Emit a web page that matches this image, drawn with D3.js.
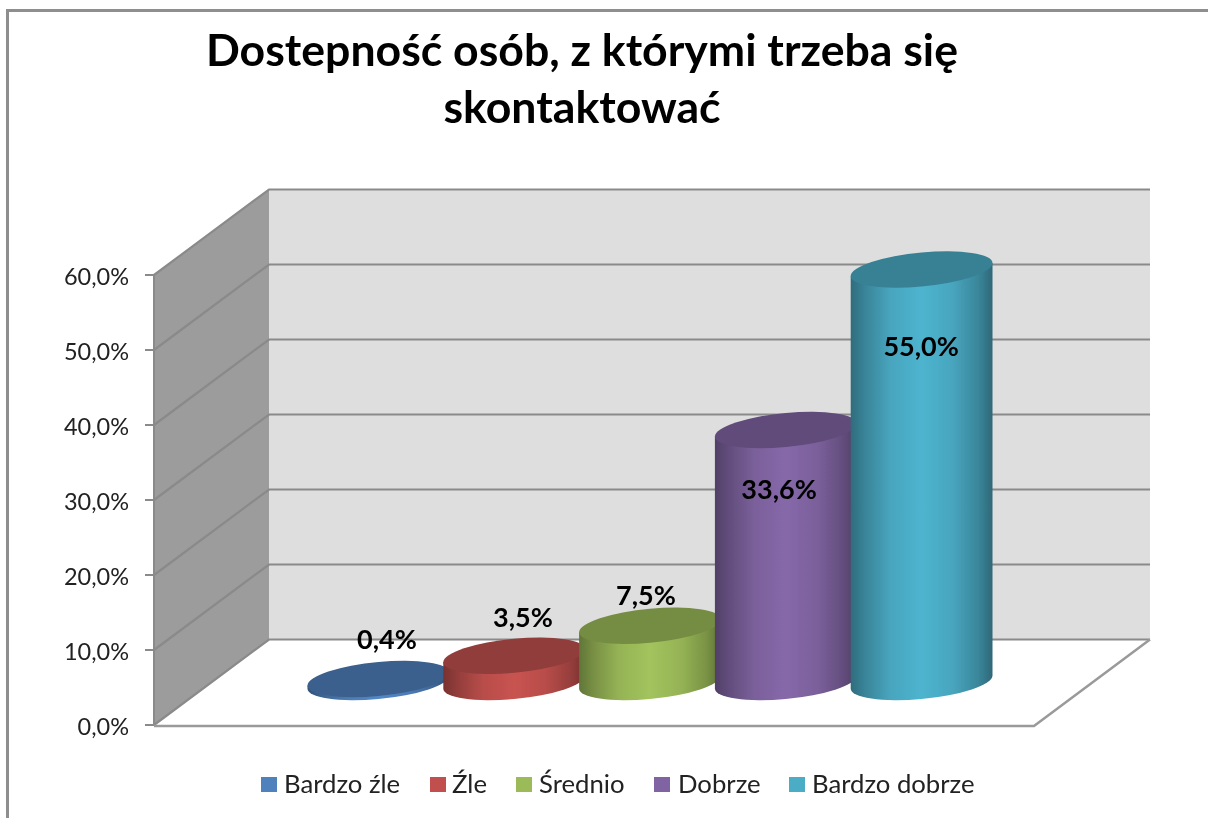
<!DOCTYPE html>
<html><head><meta charset="utf-8">
<script src="https://cdn.jsdelivr.net/npm/d3@7"></script>
<style>html,body{margin:0;padding:0;background:#fff}svg{display:block}text{font-family:Lato,"Open Sans",sans-serif}</style>
</head><body><svg id="c" width="1208" height="818"></svg>
<script>
const categories=["Bardzo źle","Źle","Średnio","Dobrze","Bardzo dobrze"];
const values=[0.4,3.5,7.5,33.6,55.0];
const tickValues=[0,10,20,30,40,50,60];
const titleLines=["Dostepność osób, z którymi trzeba się","skontaktować"];
const baseColors=["#4f81bd","#c0504d","#9bbb59","#8064a2","#4bacc6"];
const labelOffsets=[-40,-39,-31,59,76];
const labelShiftX=[8.5,8.75,-4,-6.75,-0.5];
const legendX=[261,430,516,654,789];
const legendTextX=[284,452,539,678,812];

const fmt=v=>v.toFixed(1).replace(".",",")+"%";
const root=d3.select("#c");
const defs=root.append("defs");
defs.append("filter").attr("id","soft").attr("x",0).attr("y",0).attr("width",1).attr("height",1)
  .append("feGaussianBlur").attr("stdDeviation",0.55);
const svg=root.append("g").attr("filter","url(#soft)");
svg.append("rect").attr("width",1208).attr("height",818).attr("fill","#fff");
const W={x0:154,x1:1034,bx0:269,bx1:1150,dy:85.5};
const y=d3.scaleLinear().domain([0,60]).range([725,275]);
const yBar=d3.scaleLinear().domain([0,60]).range([682,232]);
const x=d3.scaleBand().domain(categories).range([310.5,989.5]);

// frame
svg.append("path").attr("d","M7.5,818V10.5H1208").attr("fill","none").attr("stroke","#8e8e8e").attr("stroke-width",3);

// walls
svg.append("polygon").attr("fill","#dedede")
 .attr("points",[[W.bx0,y(60)-W.dy],[W.bx1,y(60)-W.dy],[W.bx1,y(0)-W.dy],[W.bx0,y(0)-W.dy]].join(" "));
svg.append("polygon").attr("fill","#9c9c9c")
 .attr("points",[[W.x0,y(60)],[W.bx0,y(60)-W.dy],[W.bx0,y(0)-W.dy],[W.x0,y(0)]].join(" "));
const grid="#8a8a8a";
tickValues.forEach(t=>{
  const yy=y(t);
  svg.append("path").attr("fill","none").attr("stroke",grid).attr("stroke-width",2.2)
   .attr("d",`M${W.x0},${yy}L${W.bx0},${yy-W.dy}H${W.bx1}`);
  svg.append("line").attr("x1",145).attr("x2",W.x0).attr("y1",yy).attr("y2",yy).attr("stroke",grid).attr("stroke-width",2);
  svg.append("text").attr("x",129).attr("y",yy+10).attr("text-anchor","end").attr("font-size",23.5).attr("fill","#222").text(fmt(t));
});
svg.append("line").attr("x1",W.x0).attr("x2",W.x0).attr("y1",y(60)).attr("y2",y(0)).attr("stroke",grid).attr("stroke-width",2);
svg.append("path").attr("fill","none").attr("stroke","#9a9a9a").attr("stroke-width",2.5)
 .attr("d",`M${W.x0},${y(0)+1}H${W.x1}L${W.bx1},${y(0)-W.dy}`);

// cylinders
const shade=(col,k)=>k<0?d3.color(col).brighter(-k).formatHex():d3.color(col).darker(k).formatHex();
baseColors.forEach((col,i)=>{
  const g=defs.append("linearGradient").attr("id","g"+i);
  [[0,1.3],[.1,.75],[.28,.12],[.5,-.12],[.72,.12],[.9,.7],[1,1.4]].forEach(([o,k])=>g.append("stop").attr("offset",o).attr("stop-color",shade(col,k)));
});
const a=x.bandwidth()/2+3, b=17, s=6.5;
values.forEach((v,i)=>{
  const cx=x(categories[i])+x.bandwidth()/2, cyB=yBar(0), cyT=yBar(v), h=cyB-cyT;
  const g=svg.append("g").attr("transform",`translate(${cx},${cyB}) matrix(1,${-s/a},0,1,0,0)`);
  g.append("path").attr("fill",`url(#g${i})`)
   .attr("d",`M${-a},${-h}L${-a},0A${a},${b} 0 0 0 ${a},0L${a},${-h}Z`);
  g.append("ellipse").attr("cx",0).attr("cy",-h).attr("rx",a).attr("ry",b)
   .attr("fill",shade(baseColors[i],0.8));
});
// data labels
values.forEach((v,i)=>{
  svg.append("text").attr("x",x(categories[i])+x.bandwidth()/2+labelShiftX[i]).attr("y",yBar(v)+labelOffsets[i]+10)
   .attr("text-anchor","middle").attr("font-size",27).attr("font-weight",700).attr("fill","#000").text(fmt(v));
});
// title
titleLines.forEach((t,i)=>svg.append("text").attr("x",582).attr("y",[66,123][i]).attr("text-anchor","middle")
  .attr("font-size",44.6).attr("font-weight",700).attr("fill","#000").text(t));
// legend
categories.forEach((t,i)=>{
  svg.append("rect").attr("x",legendX[i]).attr("y",777).attr("width",16).attr("height",15).attr("fill",baseColors[i]);
  svg.append("text").attr("x",legendTextX[i]).attr("y",793).attr("font-size",25.7).attr("fill","#222").text(t);
});
</script></body></html>
